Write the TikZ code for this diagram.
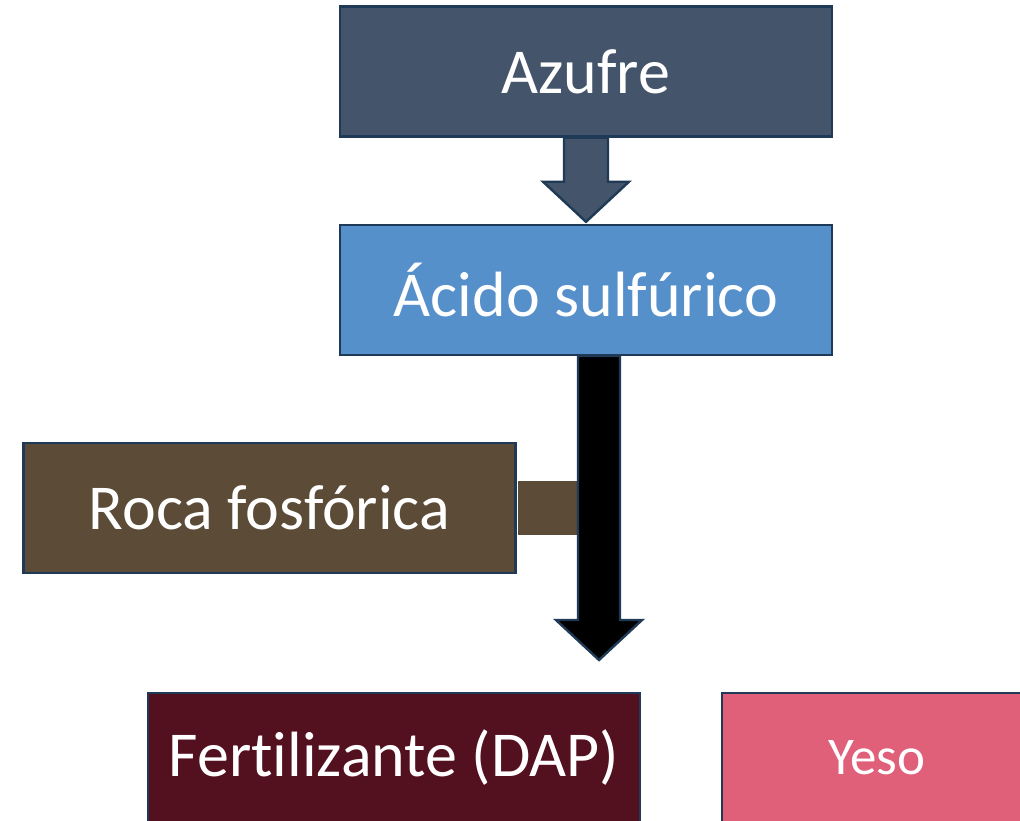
\documentclass[tikz,border=0pt]{standalone}
\usepackage{fontspec}
\setmainfont{Carlito}[Ligatures=NoCommon]
\usetikzlibrary{positioning,calc}
\definecolor{bordecol}{HTML}{1F3A56}
\definecolor{azufrecol}{HTML}{44546A}
\definecolor{acidocol}{HTML}{5590CA}
\definecolor{rocacol}{HTML}{5C4B37}
\definecolor{fertcol}{HTML}{53101F}
\definecolor{yesocol}{HTML}{E0607A}
\tikzset{
	caja/.style={draw=bordecol,line width=1.2pt,minimum width=246pt,minimum height=65pt,inner sep=0pt,text=white,font=\fontsize{32}{32}\selectfont},
	flecha/.style={draw=bordecol,line width=1.2pt}
}
\begin{document}
\begin{tikzpicture}[x=0.5pt,y=-0.5pt]
			\useasboundingbox (0,0) rectangle (1020,820);
			\node[caja,fill=azufrecol] (azufre) at (586,71.5) {Azufre};
			\node[caja,fill=acidocol] (acido) at (586,290) {Ácido sulfúrico};
			\node[caja,fill=rocacol] (roca) at (269.5,508) {Roca fosfórica};
			\node[caja,fill=fertcol] (fert) at (394,758) {Fertilizante (DAP)};
			\node[caja,fill=yesocol,minimum width=155pt,font=\fontsize{26.5}{26.5}\selectfont] (yeso) at (877,758) {Yeso};
			\coordinate (punta) at (599,660);
			% azufre -> acido
			\draw[flecha,fill=azufrecol] ($(azufre.south)+(-22,0)$) -- ++(0,44) -- ++(-21,0) -- ($(acido.north)+(0,-2)$) -- ($(azufre.south)+(43,44)$) -- ++(-21,0) -- ($(azufre.south)+(22,0)$) -- cycle;
			% roca joins the black arrow
			\fill[rocacol] ($(roca.east)+(1.2,-27.5)$) rectangle (578,535);
			\draw[flecha,fill=black] ($(punta)+(-21,-304)$) -- ($(punta)+(-21,-40)$) -- ++(-22,0) -- (punta) -- ($(punta)+(43,-40)$) -- ++(-22,0) -- ($(punta)+(21,-304)$) -- cycle;
		\end{tikzpicture}
\end{document}
